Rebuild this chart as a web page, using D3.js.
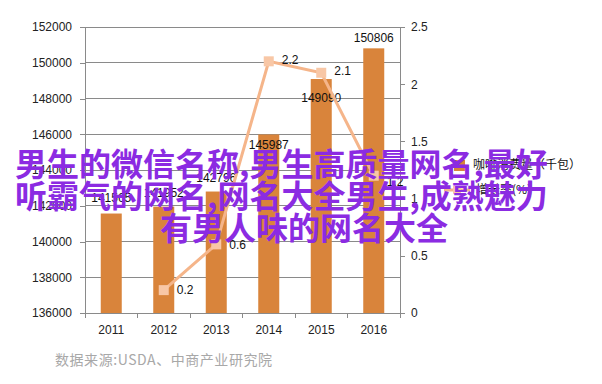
<!DOCTYPE html>
<html lang="zh">
<head>
  <meta charset="UTF-8">
  <title>咖啡消费量</title>
  <script src="https://d3js.org/d3.v7.min.js"></script>
  <style>
    body{ margin:0; background:#fff; font-family: "Liberation Sans", Arial, sans-serif; }
  </style>
</head>
<body>
<div id="chart"></div>
<script>
// chart data
var years = ["2011", "2012", "2013", "2014", "2015", "2016"];
var consumption = [141565, 141952, 142796, 145987, 149090, 150806];
var growth = [null, 0.2, 0.6, 2.2, 2.1, 1.2];
var leftTicks = [136000, 138000, 140000, 142000, 144000, 146000, 148000, 150000, 152000];
var rightTicks = [0, 0.5, 1, 1.5, 2, 2.5];
var legendLabels = ["咖啡消费量（千包）", "增长率(%)"];
var sourceText = "数据来源:USDA、中商产业研究院";
var overlayLines = ["男生的微信名称,男生高质量网名,最好", "听霸气的网名,网名大全男生,成熟魅力", "有男人味的网名大全"];

// label nudges (styling only)
var barLabelDy = [-16, -14, -14, 10, 19, -11];
var lineLabelDy = [0, 0, 0, -2, -2, 6];

var width = 602, height = 384;
// plot area edges (note: "top" is reserved on window)
var plotLeft = 85, plotRight = 400, plotTop = 27, plotBottom = 313;
var barColour = "#d9843b";
var lineColour = "#f5b58a";
var gridColour = "#8a8a8a";

var svg = d3.select("#chart").append("svg")
  .attr("width", width)
  .attr("height", height);

svg.append("rect").attr("width", width).attr("height", height).attr("fill", "#fff");

var x = d3.scaleBand().domain(years).range([plotLeft, plotRight]).padding(0);
var yL = d3.scaleLinear().domain([136000, 152000]).range([plotBottom, plotTop]);
var yR = d3.scaleLinear().domain([0, 2.5]).range([plotBottom, plotTop]);
var barW = x.bandwidth() * 0.4;

// horizontal grid lines
svg.append("g").selectAll("line")
  .data(leftTicks)
  .enter().append("line")
    .attr("x1", plotLeft).attr("x2", plotRight)
    .attr("y1", function(d){ return yL(d); })
    .attr("y2", function(d){ return yL(d); })
    .attr("stroke", gridColour)
    .attr("stroke-width", 1)
    .attr("shape-rendering", "crispEdges");

// bars
svg.append("g").selectAll("rect")
  .data(consumption)
  .enter().append("rect")
    .attr("x", function(d, i){ return x(years[i]) + (x.bandwidth() - barW) / 2; })
    .attr("y", function(d){ return yL(d); })
    .attr("width", barW)
    .attr("height", function(d){ return plotBottom - yL(d); })
    .attr("fill", barColour);

// left axis
var leftAxis = svg.append("g")
  .attr("transform", "translate(" + plotLeft + ",0)")
  .call(d3.axisLeft(yL).tickValues(leftTicks).tickSize(5).tickPadding(8).tickFormat(d3.format("d")));

// right axis
var rightAxis = svg.append("g")
  .attr("transform", "translate(" + plotRight + ",0)")
  .call(d3.axisRight(yR).tickValues(rightTicks).tickSize(5).tickPadding(6).tickFormat(function(d){ return d3.format("")(d); }));

// bottom axis: labels centred, ticks on category edges
var bottomAxis = svg.append("g")
  .attr("transform", "translate(0," + plotBottom + ")")
  .call(d3.axisBottom(x).tickSize(0).tickPadding(12));

var edges = years.map(function(d){ return x(d); }).concat([plotRight]);
svg.append("g").selectAll("line")
  .data(edges)
  .enter().append("line")
    .attr("x1", function(d){ return d; }).attr("x2", function(d){ return d; })
    .attr("y1", plotBottom).attr("y2", plotBottom + 5)
    .attr("stroke", gridColour)
    .attr("shape-rendering", "crispEdges");

[leftAxis, rightAxis, bottomAxis].forEach(function(a){
  a.selectAll("path, line").attr("stroke", gridColour).attr("shape-rendering", "crispEdges");
  a.selectAll("text").attr("font-size", "12px").attr("fill", "#222")
    .attr("font-family", "'Liberation Sans', Arial, sans-serif");
});

// bar value labels
svg.append("g").selectAll("text")
  .data(consumption)
  .enter().append("text")
    .attr("x", function(d, i){ return x(years[i]) + x.bandwidth() / 2; })
    .attr("y", function(d, i){ return yL(d) + barLabelDy[i]; })
    .attr("dy", "0.35em")
    .attr("text-anchor", "middle")
    .attr("font-size", "12px")
    .attr("fill", "#111")
    .text(function(d){ return d; });

// growth line
var pts = growth.map(function(d, i){ return {v: d, i: i}; }).filter(function(d){ return d.v !== null; });
var line = d3.line()
  .x(function(d){ return x(years[d.i]) + x.bandwidth() / 2; })
  .y(function(d){ return yR(d.v); });

svg.append("path")
  .datum(pts)
  .attr("d", line)
  .attr("fill", "none")
  .attr("stroke", lineColour)
  .attr("stroke-width", 3);

svg.append("g").selectAll("rect")
  .data(pts)
  .enter().append("rect")
    .attr("x", function(d){ return x(years[d.i]) + x.bandwidth() / 2 - 5; })
    .attr("y", function(d){ return yR(d.v) - 5; })
    .attr("width", 10).attr("height", 10)
    .attr("fill", "#f8c7a6");

svg.append("g").selectAll("text")
  .data(pts)
  .enter().append("text")
    .attr("x", function(d){ return x(years[d.i]) + x.bandwidth() / 2 + 13; })
    .attr("y", function(d){ return yR(d.v) + lineLabelDy[d.i]; })
    .attr("dy", "0.35em")
    .attr("font-size", "12px")
    .attr("fill", "#111")
    .text(function(d){ return d.v; });

// legend
var legend = svg.append("g").attr("transform", "translate(440,0)");
legend.append("rect").attr("x", 14).attr("y", 160).attr("width", 11).attr("height", 11).attr("fill", barColour);
legend.append("line").attr("x1", 4).attr("x2", 30).attr("y1", 190).attr("y2", 190)
  .attr("stroke", lineColour).attr("stroke-width", 3);
legend.append("rect").attr("x", 13).attr("y", 186).attr("width", 8).attr("height", 8).attr("fill", "#f8c7a6");
legend.selectAll("text.lg")
  .data(legendLabels)
  .enter().append("text")
    .attr("class", "lg")
    .attr("x", function(d, i){ return i === 0 ? 33 : 36; })
    .attr("y", function(d, i){ return i === 0 ? 165 : 190; })
    .attr("dy", "0.35em")
    .attr("font-size", "12px")
    .attr("font-family", "'Noto Sans CJK SC', sans-serif")
    .attr("fill", "#111")
    .text(function(d){ return d; });

// source note
svg.append("text")
  .attr("x", 55).attr("y", 365)
  .attr("font-size", "14px")
  .attr("font-family", "'Noto Sans CJK SC', sans-serif")
  .attr("fill", "#a8a8a8")
  .attr("textLength", 217)
  .text(sourceText);

// purple overlay caption
svg.append("g").selectAll("text")
  .data(overlayLines)
  .enter().append("text")
    .attr("x", function(d, i){ return i < 2 ? 15 : 160; })
    .attr("y", function(d, i){ return 176 + i * 32; })
    .attr("font-size", "32px")
    .attr("font-weight", "bold")
    .attr("font-family", "'Noto Sans CJK SC', sans-serif")
    .attr("fill", "#8b2be2")
    .text(function(d){ return d; });
</script>
</body>
</html>
